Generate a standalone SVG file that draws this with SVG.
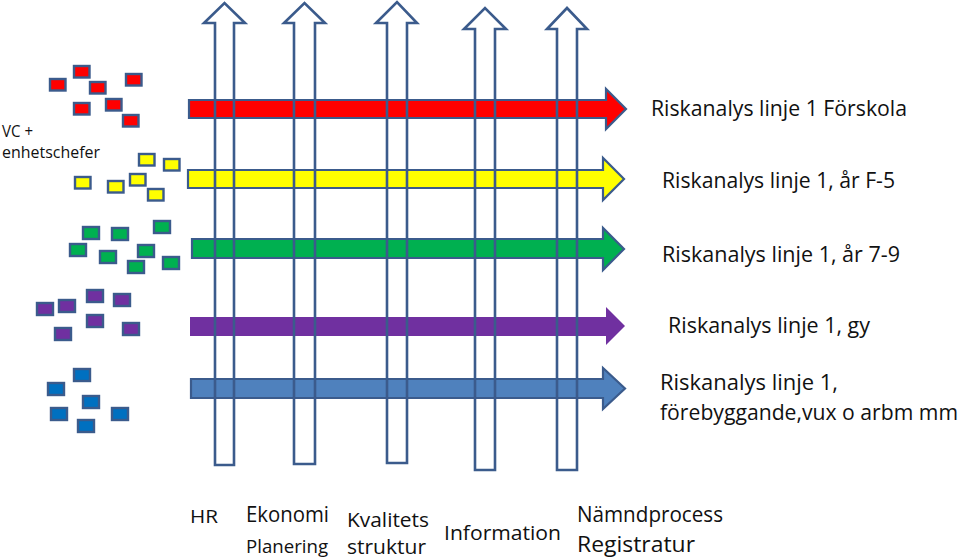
<svg xmlns="http://www.w3.org/2000/svg" width="959" height="559" viewBox="0 0 959 559">
<style>
  text { font-family: "Open Sans", "Noto Sans", "Liberation Sans", sans-serif; fill: #111; }
  .lbl { font-size: 21px; }
  .bot { font-size: 21px; }
  .sq rect { stroke: #3B5B8C; stroke-width: 2.4; }
  .red rect { fill: #FF0000; }
  .yel rect { fill: #FFFF00; }
  .grn rect { fill: #00B050; }
  .pur rect { fill: #7030A0; }
  .blu rect { fill: #0070C0; }
  .harrow { stroke: #3B5B8C; stroke-width: 2.2; stroke-linejoin: miter; }
  .varrow { fill: none; stroke: #3B5B8C; stroke-width: 2.6; stroke-linejoin: miter; }
</style>
<rect width="959" height="559" fill="#FFFFFF"/>

<!-- small team squares -->
<g id="units-red" class="sq red">
  <rect x="74" y="66" width="15.5" height="11.5"/>
  <rect x="50" y="79" width="15.5" height="11.5"/>
  <rect x="90" y="82" width="15.5" height="11.5"/>
  <rect x="126" y="74" width="15.5" height="11.5"/>
  <rect x="74" y="103" width="15.5" height="11.5"/>
  <rect x="106" y="99" width="15.5" height="11.5"/>
  <rect x="123" y="115" width="15.5" height="11.5"/>
</g>
<g id="units-yellow" class="sq yel">
  <rect x="139" y="154" width="15.5" height="11.5"/>
  <rect x="164" y="159" width="15.5" height="11.5"/>
  <rect x="75" y="177" width="15.5" height="11.5"/>
  <rect x="108" y="181" width="15.5" height="11.5"/>
  <rect x="130" y="174" width="15.5" height="11.5"/>
  <rect x="148" y="189" width="15.5" height="11.5"/>
</g>
<g id="units-green" class="sq grn">
  <rect x="83" y="227" width="16" height="12"/>
  <rect x="112" y="228" width="16" height="12"/>
  <rect x="154" y="221" width="16" height="12"/>
  <rect x="70" y="244" width="16" height="12"/>
  <rect x="100" y="251" width="16" height="12"/>
  <rect x="138" y="245" width="16" height="12"/>
  <rect x="128" y="261" width="16" height="12"/>
  <rect x="163" y="257" width="16" height="12"/>
</g>
<g id="units-purple" class="sq pur">
  <rect x="37" y="303" width="16" height="12"/>
  <rect x="59" y="300" width="16" height="12"/>
  <rect x="87" y="290" width="16" height="12"/>
  <rect x="114" y="294" width="16" height="12"/>
  <rect x="87" y="315" width="16" height="12"/>
  <rect x="55" y="328" width="16" height="12"/>
  <rect x="123" y="323" width="16" height="12"/>
</g>
<g id="units-blue" class="sq blu">
  <rect x="74" y="369" width="16" height="12"/>
  <rect x="48" y="383" width="16" height="12"/>
  <rect x="83" y="396" width="16" height="12"/>
  <rect x="51" y="408" width="16" height="12"/>
  <rect x="112" y="408" width="16" height="12"/>
  <rect x="78" y="420" width="16" height="12"/>
</g>

<g id="label-vc">
  <text x="2" y="137" font-size="17" textLength="31" lengthAdjust="spacingAndGlyphs">VC +</text>
  <text x="2" y="158" font-size="17" textLength="98" lengthAdjust="spacingAndGlyphs">enhetschefer</text>
</g>

<!-- horizontal line arrows -->
<g id="connectors">
  <path id="line-forskola" class="harrow" fill="#FF0000" d="M189,100 L606,100 L606,89 L626,109 L606,129 L606,118 L189,118 Z"/>
  <path id="line-f5" class="harrow" fill="#FFFF00" d="M188,170 L603,170 L603,158 L624,179 L603,200 L603,188 L188,188 Z"/>
  <path id="line-79" class="harrow" fill="#00B050" d="M192,239 L603,239 L603,228 L624,249 L603,270 L603,258 L192,258 Z"/>
  <path id="line-gy" fill="#7030A0" d="M190,317 L606,317 L606,307 L625,326 L606,345 L606,336 L190,336 Z"/>
  <path id="line-vux" class="harrow" fill="#4F81BD" d="M191,379 L603,379 L603,368 L625,388.5 L603,409 L603,398 L191,398 Z"/>

  <!-- vertical support arrows (outline, on top) -->
  <path id="support-hr" class="varrow" d="M215,465 L215,23 L204,23 L224.5,3 L245,23 L234,23 L234,465 Z"/>
  <path id="support-ekonomi" class="varrow" d="M294,464 L294,23 L284,23 L304.5,3 L325,23 L315,23 L315,464 Z"/>
  <path id="support-kvalitet" class="varrow" d="M387,463 L387,23 L376,23 L397,2 L417,23 L407,23 L407,463 Z"/>
  <path id="support-information" class="varrow" d="M475,470 L475,29 L464,29 L485,8 L506,29 L495,29 L495,470 Z"/>
  <path id="support-namnd" class="varrow" d="M557,470 L557,29 L547,29 L567,8 L587,29 L577,29 L577,470 Z"/>
</g>

<!-- right labels -->
<g id="label-forskola"><text class="lbl" x="651" y="116" textLength="256" lengthAdjust="spacingAndGlyphs">Riskanalys linje 1 Förskola</text></g>
<g id="label-f5"><text class="lbl" x="662" y="188" textLength="233" lengthAdjust="spacingAndGlyphs">Riskanalys linje 1, år F-5</text></g>
<g id="label-79"><text class="lbl" x="662" y="262" textLength="238" lengthAdjust="spacingAndGlyphs">Riskanalys linje 1, år 7-9</text></g>
<g id="label-gy"><text class="lbl" x="668" y="333" textLength="202" lengthAdjust="spacingAndGlyphs">Riskanalys linje 1, gy</text></g>
<g id="label-vux">
  <text class="lbl" x="660" y="390" textLength="178" lengthAdjust="spacingAndGlyphs">Riskanalys linje 1,</text>
  <text class="lbl" x="660" y="420" textLength="298" lengthAdjust="spacingAndGlyphs">förebyggande,vux o arbm mm</text>
</g>

<!-- bottom labels -->
<g id="label-hr"><text x="190" y="523" font-size="19" textLength="28" lengthAdjust="spacingAndGlyphs">HR</text></g>
<g id="label-ekonomi">
  <text class="bot" x="246" y="522" textLength="83" lengthAdjust="spacingAndGlyphs">Ekonomi</text>
  <text x="246" y="553" font-size="18" textLength="82" lengthAdjust="spacingAndGlyphs">Planering</text>
</g>
<g id="label-kvalitet">
  <text x="347" y="527" font-size="20" textLength="82" lengthAdjust="spacingAndGlyphs">Kvalitets</text>
  <text x="347" y="554" font-size="20" textLength="79" lengthAdjust="spacingAndGlyphs">struktur</text>
</g>
<g id="label-information"><text x="444" y="540" font-size="20" textLength="117" lengthAdjust="spacingAndGlyphs">Information</text></g>
<g id="label-namnd">
  <text class="bot" x="577" y="522" textLength="146" lengthAdjust="spacingAndGlyphs">Nämndprocess</text>
  <text class="bot" x="577" y="552" textLength="118" lengthAdjust="spacingAndGlyphs">Registratur</text>
</g>
</svg>
